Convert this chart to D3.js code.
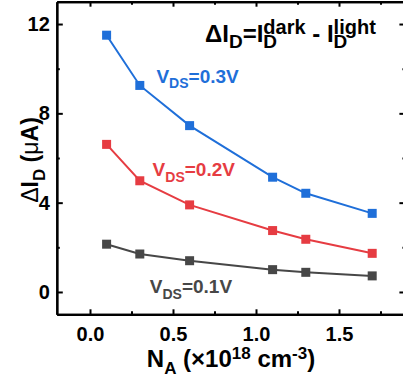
<!DOCTYPE html>
<html><head><meta charset="utf-8">
<script src="https://cdn.jsdelivr.net/npm/d3@7"></script>
<style>
body{margin:0;background:#fff;}
text{font-family:"Liberation Sans",Arial,sans-serif;font-weight:bold;}
</style></head>
<body><svg id="c" width="403" height="380"></svg>
<script>
const nA = [0.1, 0.3, 0.6, 1.1, 1.3, 1.7];
const vds03 = [11.5, 9.25, 7.45, 5.14, 4.42, 3.52];
const vds02 = [6.61, 4.98, 3.9, 2.75, 2.36, 1.73];
const vds01 = [2.14, 1.7, 1.4, 1.0, 0.88, 0.72];
const xMajor = [0, 0.5, 1.0, 1.5];
const xMinor = [0.25, 0.75, 1.25, 1.75];
const yMajor = [0, 4, 8, 12];
const yMinor = [2, 6, 10];
const seriesNames = ["0.3V", "0.2V", "0.1V"];
const colors = ["#1f6fd9", "#e63c42", "#474747"];

const svg = d3.select("#c");
const x = d3.scaleLinear().domain([-0.2, 1.9]).range([56.8, 405.4]);
const y = d3.scaleLinear().domain([-1, 13]).range([314.3, 1.7]);
const L = x.range()[0], R = x.range()[1], B = y.range()[0], T = y.range()[1];

function styleAxis(g){
  g.selectAll(".domain").attr("stroke","#000").attr("stroke-width",2.2);
  g.selectAll(".tick line").attr("stroke","#000").attr("stroke-width",2);
  g.selectAll(".tick text").attr("fill","#000").style("font-size","20px").style("font-weight","bold");
}
// bottom
svg.append("g").attr("transform",`translate(0,${B})`)
  .call(d3.axisBottom(x).tickValues(xMajor).tickFormat(d3.format(".1f")).tickSizeInner(-5).tickSizeOuter(0).tickPadding(13)).call(styleAxis);
svg.append("g").attr("transform",`translate(0,${B})`)
  .call(d3.axisBottom(x).tickValues(xMinor).tickFormat("").tickSizeInner(-3).tickSizeOuter(0)).call(styleAxis);
// top
svg.append("g").attr("transform",`translate(0,${T})`)
  .call(d3.axisTop(x).tickValues(xMajor).tickFormat("").tickSizeInner(-5).tickSizeOuter(0)).call(styleAxis);
svg.append("g").attr("transform",`translate(0,${T})`)
  .call(d3.axisTop(x).tickValues(xMinor).tickFormat("").tickSizeInner(-3).tickSizeOuter(0)).call(styleAxis);
// left
svg.append("g").attr("transform",`translate(${L},0)`)
  .call(d3.axisLeft(y).tickValues(yMajor).tickFormat(d3.format("d")).tickSizeInner(-6).tickSizeOuter(0).tickPadding(7)).call(styleAxis);
svg.append("g").attr("transform",`translate(${L},0)`)
  .call(d3.axisLeft(y).tickValues(yMinor).tickFormat("").tickSizeInner(-3).tickSizeOuter(0)).call(styleAxis);
// right
svg.append("g").attr("transform",`translate(${R},0)`)
  .call(d3.axisRight(y).tickValues(yMajor).tickFormat("").tickSizeInner(-6).tickSizeOuter(0)).call(styleAxis);
svg.append("g").attr("transform",`translate(${R},0)`)
  .call(d3.axisRight(y).tickValues(yMinor).tickFormat("").tickSizeInner(-3).tickSizeOuter(0)).call(styleAxis);

// series
const series = [vds03, vds02, vds01];
const line = d3.line().x((d,i)=>x(nA[i])).y(d=>y(d));
series.forEach((vals,k)=>{
  svg.append("path").datum(vals).attr("d",line).attr("fill","none").attr("stroke",colors[k]).attr("stroke-width",2);
  svg.append("g").selectAll("rect").data(vals).join("rect")
    .attr("x",(d,i)=>x(nA[i])-4.5).attr("y",d=>y(d)-4.5).attr("width",9).attr("height",9)
    .attr("fill",colors[k]);
});

// rich text helper
function measure(t,size,weight){
  const tmp = svg.append("text").style("font-size",size+"px").style("font-weight",weight||"bold").text(t);
  const w = tmp.node().getComputedTextLength(); tmp.remove(); return w;
}
function rich(textSel, parts, main, sub, sup, subDy, supDy){
  let cur = 0;
  sup = sup || sub;
  if(subDy===undefined) subDy = main*0.3;
  if(supDy===undefined) supDy = -main*0.34;
  parts.forEach(p=>{
    const target = p.k==="sub"?subDy : p.k==="sup"?supDy : 0;
    const size = p.k==="n"?main : p.k==="sub"?sub : sup;
    const ts = textSel.append("tspan").attr("dy",(target-cur).toFixed(2))
      .style("font-size",size+"px").text(p.t);
    if(p.dx!==undefined) ts.attr("dx",p.dx);
    if(p.w) ts.style("font-weight",p.w);
    cur = target;
  });
}

// series labels
const labelPos = [[0.40,9.37],[0.377,5.2],[0.36,-0.06]];
seriesNames.forEach((n,k)=>{
  const t = svg.append("text").attr("x",x(labelPos[k][0])).attr("y",y(labelPos[k][1])).attr("fill",colors[k]);
  rich(t,[{t:"V",k:"n"},{t:"DS",k:"sub"},{t:"="+n,k:"n"}],19,14);
});

// title
const tt = svg.append("text").attr("x",205).attr("y",41.7).attr("fill","#000");
const wD = measure("D",19);
rich(tt,[{t:"ΔI",k:"n"},{t:"D",k:"sub"},{t:"=I",k:"n"},{t:"D",k:"sub"},{t:"dark",k:"sup",dx:-wD},
         {t:" - I",k:"n"},{t:"D",k:"sub"},{t:"light",k:"sup",dx:-wD}],24,19,20,6.6,-7.4);

// y label
const yl = svg.append("text").attr("transform","translate(38,160) rotate(-90)").attr("text-anchor","middle").attr("fill","#000");
rich(yl,[{t:"Δ",k:"n",w:"normal"},{t:"I",k:"n"},{t:"D",k:"sub"},{t:" (",k:"n"},{t:"μ",k:"n",w:"normal"},{t:"A)",k:"n"}],23,17);

// x label
const xl = svg.append("text").attr("x",231).attr("y",367).attr("text-anchor","middle").attr("fill","#000");
rich(xl,[{t:"N",k:"n"},{t:"A",k:"sub"},{t:" (×10",k:"n"},{t:"18",k:"sup"},{t:" cm",k:"n"},{t:"-3",k:"sup"},{t:")",k:"n"}],24,17);
</script></body></html>
